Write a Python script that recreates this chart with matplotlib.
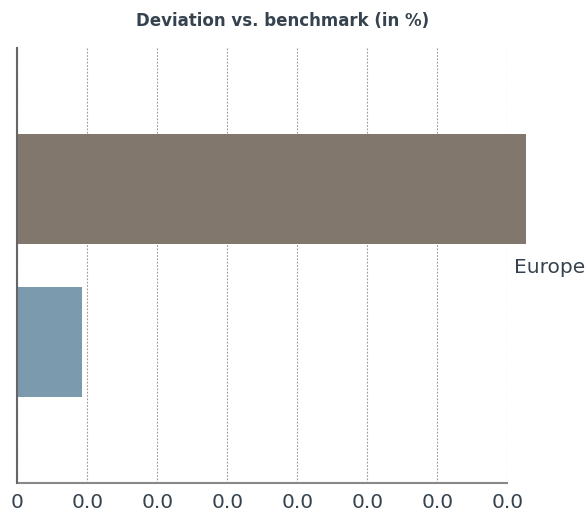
import matplotlib
matplotlib.use("Agg")
import matplotlib.pyplot as plt

# data
series = ["Series A", "Series B"]
values = [0.00726, 0.00092]
bar_colors = ["#82776c", "#7b9aad"]
group_label = "Europe"
tick_values = [0, 0.001, 0.002, 0.003, 0.004, 0.005, 0.006, 0.007]
tick_labels = ["0", "0.0", "0.0", "0.0", "0.0", "0.0", "0.0", "0.0"]

txt = "#36434f"

fig = plt.figure(figsize=(5.88, 5.13), dpi=100)
ax = fig.add_axes([17.3 / 588, 30 / 513, 490 / 588, 435 / 513])

pos = list(range(len(values)))
ax.barh(pos, values, height=0.72, color=bar_colors, clip_on=False, zorder=2)

ax.set_xlim(0, 0.007)
ax.set_ylim(1.92, -0.924)

ax.set_xticks(tick_values)
ax.set_xticklabels(tick_labels)
ax.tick_params(axis="x", length=0, pad=7, labelsize=14.5, labelcolor=txt)

# group label on the right side
ax.yaxis.tick_right()
ax.set_yticks([0.5])
ax.set_yticklabels([group_label])
ax.tick_params(axis="y", length=0, pad=5, labelsize=14.5, labelcolor=txt)

ax.grid(axis="x", linestyle=(0, (1.5, 1.5)), color="#999999", linewidth=0.8)
ax.grid(axis="y", visible=False)
ax.set_axisbelow(True)

for s in ["top", "right"]:
    ax.spines[s].set_visible(False)
ax.spines["left"].set_color("#666666")
ax.spines["left"].set_linewidth(1.5)
ax.spines["left"].set_zorder(3)
ax.spines["bottom"].set_color("#888888")
ax.spines["bottom"].set_linewidth(1.5)

fig.text(282.5 / 588, 1 - 26 / 513, "Deviation vs. benchmark (in %)",
         ha="center", va="baseline", fontsize=12, fontweight="bold", color=txt)

fig.savefig("out.png", dpi=100)
